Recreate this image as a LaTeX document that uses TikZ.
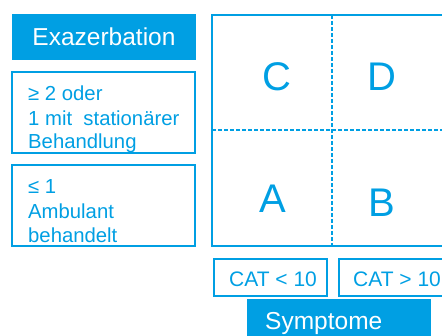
\documentclass[tikz,border=0pt]{standalone}
\usepackage{fontspec}
\setmainfont{Liberation Sans}
\definecolor{cblue}{RGB}{0,159,227}
\tikzset{
  fillbox/.style={fill=cblue, draw=none, inner sep=0pt, text=white},
  linebox/.style={draw=cblue, line width=1.6pt, inner sep=0pt},
  btext/.style={text=cblue, inner sep=0pt},
  ltext/.style={text=cblue, inner sep=0pt, anchor=base west, font=\fontsize{20.3}{24}\selectfont},
  gridline/.style={draw=cblue, line width=1.4pt, dash pattern=on 4pt off 2pt},
}
\begin{document}
\begin{tikzpicture}[x=1pt,y=-1pt]
\useasboundingbox (0,0) rectangle (442,336);
\clip (0,0) rectangle (442,336);
% Exazerbation header
\node[fillbox, minimum width=184pt, minimum height=46pt, font=\fontsize{24.5}{28}\selectfont] (exa) at (104,37) {Exazerbation};
% left boxes
\node[linebox, minimum width=183pt, minimum height=81pt] (b1) at (103.5,112.5) {};
\node[ltext] (t1) at (28,101) {≥ 2 oder};
\node[ltext] (t1b) at (28,125.5) {1 mit\ \ stationärer};
\node[ltext] (t1c) at (28,149) {Behandlung};
\node[linebox, minimum width=183pt, minimum height=81pt] (b2) at (103.5,205.5) {};
\node[ltext] (t2) at (28,194) {≤ 1};
\node[ltext] (t2b) at (28,219) {Ambulant};
\node[ltext] (t2c) at (28,242.5) {behandelt};
% grid
\coordinate (gtl) at (212,15);
\coordinate (gbr) at (470,246);
\coordinate (vt) at (332,15);
\coordinate (vb) at (332,246);
\coordinate (hl) at (212,130);
\coordinate (hr) at (470,130);
\draw[gridline] (vt) -- (vb);
\draw[gridline] (hl) -- (hr);
\draw[draw=cblue, line width=1.8pt] (gtl) rectangle (gbr);
\node[btext, font=\fontsize{40}{44}\selectfont] (C) at (277,77) {C};
\node[btext, font=\fontsize{40}{44}\selectfont] (D) at (382,77) {D};
\node[btext, font=\fontsize{40}{44}\selectfont] (A) at (273,199) {A};
\node[btext, font=\fontsize{40}{44}\selectfont] (B) at (382,203) {B};
% CAT boxes
\node[linebox, minimum width=113pt, minimum height=37pt] (cat1) at (270.5,277.5) {};
\node[btext, font=\fontsize{21}{24}\selectfont] (cat1t) at (273,279) {CAT < 10};
\node[linebox, minimum width=120pt, minimum height=37pt, anchor=west] (cat2) at (338,277.5) {};
\node[btext, anchor=west, font=\fontsize{21}{24}\selectfont] (cat2t) at (353,279) {CAT > 10};
% Symptome
\node[fillbox, minimum width=184pt, minimum height=46pt, anchor=north west] (sym) at (247,299) {};
\node[text=white, anchor=north west, inner sep=0pt, font=\fontsize{24.5}{28}\selectfont] (symt) at (265,312) {Symptome};
\end{tikzpicture}
\end{document}
